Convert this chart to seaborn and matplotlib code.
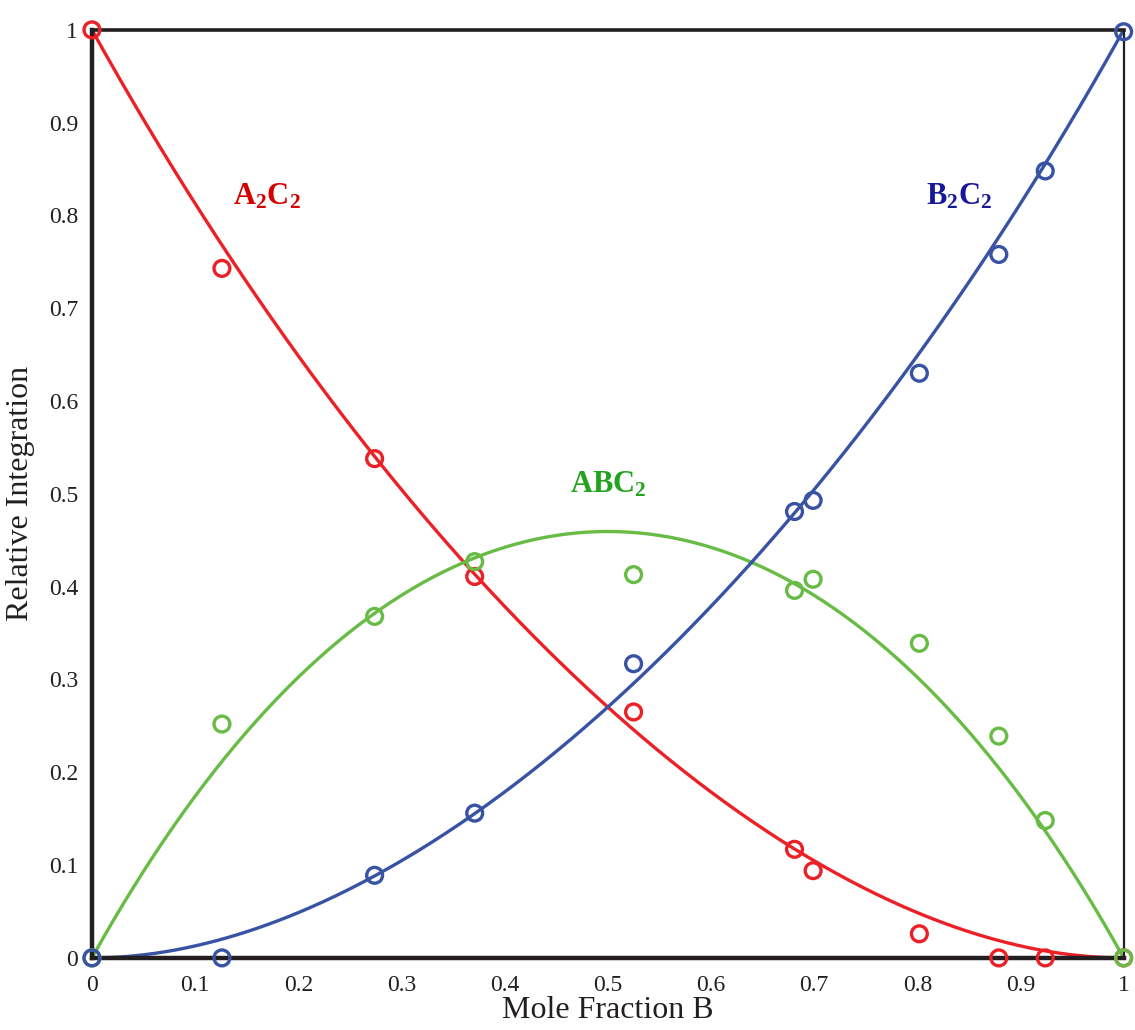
import matplotlib
matplotlib.use("Agg")
import matplotlib.pyplot as plt
import seaborn as sns
import numpy as np
import pandas as pd

# mole fraction of B for each sample
mole_frac = [0.0, 0.126, 0.274, 0.371, 0.525, 0.681, 0.699, 0.802, 0.879, 0.924, 1.0]
# relative integrations
a2c2 = [1.0, 0.743, 0.538, 0.411, 0.265, 0.117, 0.094, 0.026, 0.0, 0.0, 0.0]
abc2 = [0.0, 0.252, 0.368, 0.427, 0.413, 0.396, 0.408, 0.339, 0.239, 0.148, 0.0]
b2c2 = [0.0, 0.0, 0.089, 0.156, 0.317, 0.481, 0.493, 0.630, 0.758, 0.848, 0.998]

species = ["A2C2", "ABC2", "B2C2"]
labels = [r"$\mathbf{A_2C_2}$", r"$\mathbf{ABC_2}$", r"$\mathbf{B_2C_2}$"]
label_pos = [(0.17, 0.82), (0.50, 0.51), (0.84, 0.82)]
line_colors = ["#ec2027", "#68bc45", "#3853a4"]
text_colors = ["#d40000", "#22a31e", "#17179a"]

df = pd.DataFrame({"x": mole_frac, "A2C2": a2c2, "ABC2": abc2, "B2C2": b2c2})


# A2C2 + B2C2 <-> 2 ABC2 scrambling equilibrium, K fitted to the points
def model(x, K):
    x = np.asarray(x, dtype=float)
    uv = x * (1 - x)
    a = 1 - K / 4.0
    b = K / 2.0
    if abs(a) < 1e-9:
        p = 2 * uv
    else:
        p = (-b + np.sqrt(b * b + 4 * a * K * uv)) / (2 * a)
    return pd.DataFrame({"x": x, "A2C2": 1 - x - p / 2, "ABC2": p, "B2C2": x - p / 2})


K_grid = np.linspace(0.5, 20, 3901)
err = [((model(df["x"], K)[species].values - df[species].values) ** 2).sum() for K in K_grid]
K_fit = K_grid[int(np.argmin(err))]
fit = model(np.linspace(0, 1, 301), K_fit)

sns.set_style("white")
plt.rcParams["font.family"] = ["Liberation Serif", "DejaVu Serif"]
plt.rcParams["mathtext.fontset"] = "custom"
plt.rcParams["mathtext.rm"] = "Liberation Serif"
plt.rcParams["mathtext.bf"] = "Liberation Serif:bold"

fig = plt.figure(figsize=(11.35, 10.3), dpi=100)
ax = fig.add_axes([0.081, 0.07, 0.909, 0.901])

for name, col in zip(species, line_colors):
    sns.lineplot(data=fit, x="x", y=name, color=col, lw=2.4, ax=ax)
    ax.scatter(df["x"], df[name], s=130, facecolors="none", edgecolors=col,
               linewidths=2.4, zorder=5, clip_on=False)

for lab, (tx, ty), tc in zip(labels, label_pos, text_colors):
    ax.text(tx, ty, lab, color=tc, fontsize=22, ha="center", va="center")

ax.set_xlim(0, 1)
ax.set_ylim(0, 1)
ticks = np.round(np.arange(0, 1.01, 0.1), 1)
ticklabels = ["0"] + [f"{t:.1f}" for t in ticks[1:-1]] + ["1"]
ax.set_xticks(ticks)
ax.set_xticklabels(ticklabels)
ax.set_yticks(ticks)
ax.set_yticklabels(ticklabels)
ax.tick_params(direction="in", length=7, width=2.5, labelsize=17,
               colors="#231f20", top=False, right=False)
ax.tick_params(axis="x", pad=12)
ax.tick_params(axis="y", pad=10)
ax.set_xlabel("Mole Fraction B", fontsize=23, color="#231f20", labelpad=0)
ax.set_ylabel("Relative Integration", fontsize=23, color="#231f20", labelpad=10)

for side, w in [("left", 3.2), ("bottom", 3.2), ("top", 2.6), ("right", 1.6)]:
    ax.spines[side].set_visible(True)
    ax.spines[side].set_linewidth(w)
    ax.spines[side].set_color("#231f20")

fig.savefig("out.png", dpi=100)
